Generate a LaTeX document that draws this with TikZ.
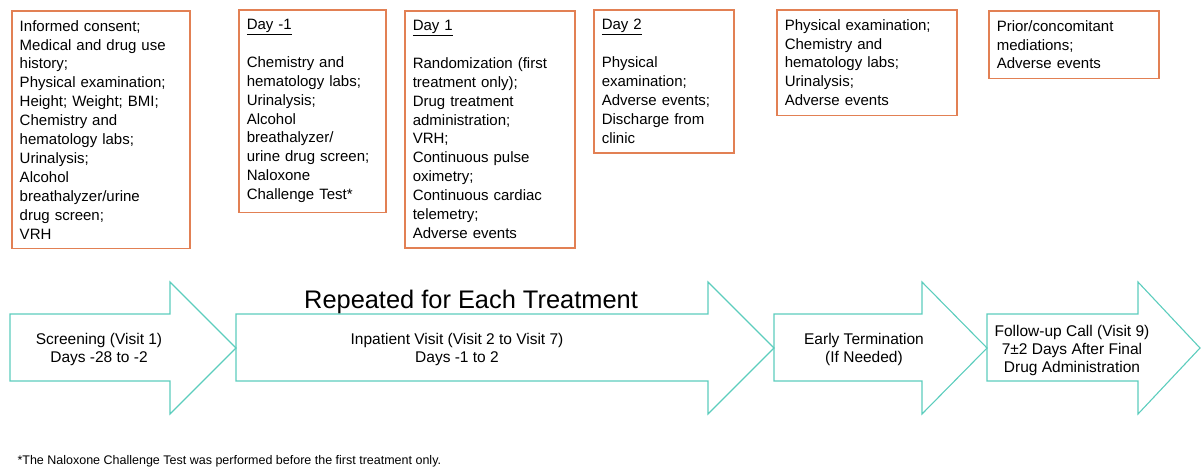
\documentclass[tikz,border=0pt]{standalone}
\usepackage{fontspec}
\setmainfont{Liberation Sans}
\usetikzlibrary{positioning}
\definecolor{boxorange}{RGB}{226,128,84}
\definecolor{flowteal}{RGB}{92,205,189}

\begin{document}
\begin{tikzpicture}[
    x=1pt, y=-1pt,
    infobox/.style={draw=boxorange, line width=1.5pt, anchor=north west,
                    align=left, inner xsep=8pt, inner ysep=9.5pt,
                    font=\fontsize{15}{18.9}\selectfont},
    flow/.style={draw=flowteal, line width=1.1pt, line join=miter},
    flowtext/.style={align=center, font=\fontsize{15.5}{18}\selectfont}
  ]
  \useasboundingbox (0,0) rectangle (1201,467);

  \node[infobox, text width=162pt] (screenbox) at (11,10)
    {Informed consent;\\Medical and drug use\\history;\\Physical examination;\\
     Height; Weight; BMI;\\Chemistry and\\hematology labs;\\Urinalysis;\\
     Alcohol\\breathalyzer/urine\\drug screen;\\VRH};
  \node[infobox, text width=131pt] (dayminusone) at (238,9)
    {\underline{Day -1}\\[18.9pt]Chemistry and\\hematology labs;\\Urinalysis;\\
     Alcohol\\breathalyzer/\\urine drug screen;\\Naloxone\\Challenge Test*};
  \node[infobox, text width=154pt] (dayone) at (404,10)
    {\underline{Day 1}\\[18.9pt]Randomization (first\\treatment only);\\
     Drug treatment\\administration;\\VRH;\\Continuous pulse\\oximetry;\\
     Continuous cardiac\\telemetry;\\Adverse events};
  \node[infobox, text width=124pt] (daytwo) at (593,9)
    {\underline{Day 2}\\[18.9pt]Physical\\examination;\\Adverse events;\\
     Discharge from\\clinic};
  \node[infobox, text width=164pt] (termbox) at (776,9)
    {Physical examination;\\Chemistry and\\hematology labs;\\Urinalysis;\\
     Adverse events};
  \node[infobox, text width=154pt] (callbox) at (988,10)
    {Prior/concomitant\\mediations;\\Adverse events};

  \foreach \l/\h/\t in {10/170/236, 236/708/774, 774/922/987, 987/1138/1200}
    \draw[flow] (\l,314) -- (\h,314) -- (\h,282) -- (\t,348)
      -- (\h,414) -- (\h,381) -- (\l,381) -- cycle;

  \node[anchor=base, font=\fontsize{25.4}{29}\selectfont] (repeated) at (471,308)
    {Repeated for Each Treatment};
  \node[flowtext] (screening) at (99,349) {Screening (Visit 1)\\Days -28 to -2};
  \node[flowtext] (inpatient) at (457,349)
    {Inpatient Visit (Visit 2 to Visit 7)\\Days -1 to 2};
  \node[flowtext] (earlyterm) at (864,349) {Early Termination\\(If Needed)};
  \node[flowtext] (followup) at (1072,350)
    {Follow-up Call (Visit 9)\\7±2 Days After Final\\Drug Administration};

  \node[anchor=base west, font=\fontsize{12.5}{14}\selectfont] (footnote) at (14,464)
    {*The Naloxone Challenge Test was performed before the first treatment only.};
\end{tikzpicture}
\end{document}
